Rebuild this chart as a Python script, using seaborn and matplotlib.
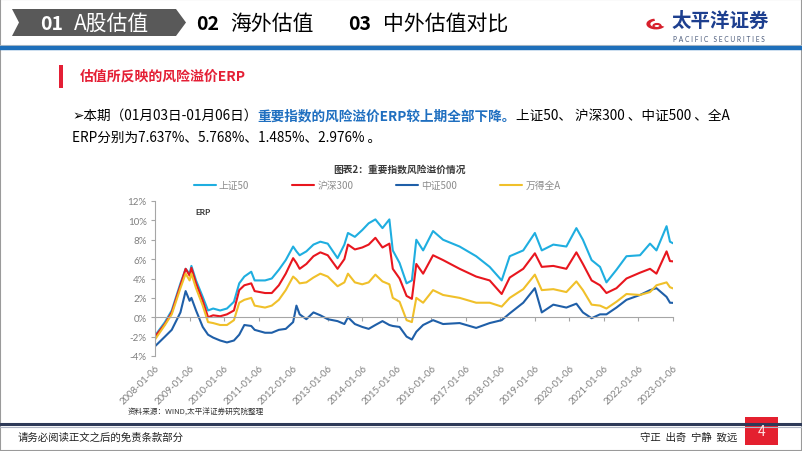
import matplotlib
matplotlib.use("Agg")
import matplotlib.pyplot as plt
import matplotlib.patches as mpatches
import matplotlib.ticker as mticker
import numpy as np
import pandas as pd
import seaborn as sns

# ---- data (ERP, %) ----
dates = [
    "2008-01-06", "2008-04-20", "2008-07-01", "2008-10-01", "2008-11-25",
    "2009-01-06", "2009-01-25", "2009-03-15", "2009-05-25", "2009-07-20", "2009-09-12", "2009-11-25",
    "2010-02-05", "2010-04-20", "2010-06-15", "2010-08-08", "2010-10-20", "2010-11-25",
    "2011-03-15", "2011-05-25", "2011-08-08", "2011-10-20",
    "2012-01-06", "2012-02-10", "2012-03-15", "2012-05-25", "2012-08-08", "2012-10-20",
    "2013-01-06", "2013-04-20", "2013-07-01", "2013-08-08", "2013-10-20",
    "2014-01-06", "2014-03-15", "2014-05-25", "2014-08-08", "2014-10-20", "2014-11-25",
    "2015-02-05", "2015-04-20", "2015-06-15", "2015-08-01", "2015-10-12",
    "2016-01-25", "2016-05-10", "2016-11-01",
    "2017-04-25", "2017-09-15",
    "2018-01-20", "2018-04-15", "2018-09-05",
    "2019-01-06", "2019-03-20", "2019-07-20", "2019-12-05",
    "2020-03-20", "2020-05-28", "2020-08-28", "2020-11-25",
    "2021-02-01", "2021-05-18", "2021-09-01",
    "2022-01-22", "2022-05-08", "2022-07-15", "2022-10-30", "2022-12-05",
    "2023-01-06",
]

sz50 = [
    -1.9, -0.5, 0.7, 3.5, 5.0,
    4.5, 5.3, 3.8, 2.1, 0.7, 0.9, 0.7,
    0.9, 1.6, 3.5, 4.2, 4.7, 3.8,
    3.8, 4.0, 4.9, 5.9,
    7.3, 6.8, 6.4, 6.8, 7.5, 7.8,
    7.6, 6.1, 7.5, 8.7, 8.3,
    9.0, 9.7, 10.1, 9.2, 10.1, 6.9,
    5.6, 3.5, 3.8, 8.0, 6.9,
    8.9, 8.0, 7.3,
    6.3, 5.2,
    3.8, 6.3, 6.9,
    8.7, 6.9, 7.5, 7.3,
    9.2, 8.0, 5.9, 5.2,
    3.6, 4.9, 6.3,
    6.4, 7.6, 6.9, 9.4, 7.8,
    7.637,
]

hs300 = [
    -2.0, -0.7, 0.5, 3.3, 5.0,
    4.3, 5.1, 3.5, 1.7, 0.0, 0.2, 0.1,
    0.3, 0.7, 2.8, 3.3, 3.5, 2.7,
    2.5, 2.5, 3.3, 4.5,
    6.1, 5.6, 5.0, 5.5, 6.3, 6.7,
    6.4, 5.0, 6.0, 7.5, 7.0,
    7.2, 7.5, 8.2, 7.2, 7.6, 5.0,
    4.0, 2.2, 1.9, 5.5, 4.5,
    6.4, 5.9, 5.0,
    4.2, 3.8,
    2.4, 4.1, 5.0,
    6.6, 5.2, 5.3, 5.0,
    6.7, 5.5, 3.8, 3.3,
    2.5, 3.0, 4.0,
    4.6, 5.0, 4.5, 6.8, 5.8,
    5.768,
]

zz500 = [
    -3.0, -2.0, -1.3, 0.5, 2.7,
    1.7, 2.0, 0.7, -1.0, -1.8, -2.1, -2.4,
    -2.6, -2.4, -1.8, -0.8, -0.9, -1.3,
    -1.6, -1.6, -1.3, -1.2,
    -0.5, 1.2, 0.3, -0.2, 0.5, 0.2,
    -0.2, -0.4, -0.7, 0.0, -0.7,
    -1.0, -1.2, -0.8, -0.4, -0.8, -0.9,
    -1.0, -2.0, -2.3, -1.5, -0.8,
    -0.3, -0.7, -0.6,
    -1.1, -0.6,
    -0.3, 0.4, 1.5,
    3.0, 0.5, 1.3, 1.0,
    1.4, 0.5, -0.1, 0.3,
    0.3, 1.0, 1.8,
    2.3, 2.8, 3.0, 2.1, 1.5,
    1.485,
]

wind_a = [
    -2.3, -0.8, 0.3, 3.0, 4.5,
    3.8, 4.5, 3.0, 1.2, -0.5, -0.6, -0.8,
    -0.8, -0.3, 1.5, 1.8, 2.0, 1.2,
    1.0, 1.2, 1.8, 2.8,
    4.2, 3.9, 3.5, 3.6, 4.1, 4.5,
    4.2, 3.2, 3.6, 4.5, 3.6,
    3.4, 3.6, 4.4, 3.7, 3.4, 2.0,
    1.6, -0.3, -0.5, 2.0, 1.5,
    2.8, 2.3, 2.0,
    1.5, 1.5,
    1.1, 2.0, 2.9,
    4.4, 2.8, 2.9, 2.6,
    3.7, 2.8, 1.3, 1.2,
    0.9, 1.6, 2.4,
    2.3, 2.6, 3.3, 3.6, 3.1,
    2.976,
]

series_names = ["上证50", "沪深300", "中证500", "万得全A"]
series_colors = ["#1faee0", "#e8161e", "#1f5fa8", "#f0c02a"]

x_ticks = [f"{y}-01-06" for y in range(2008, 2024)]
y_ticks = [-4, -2, 0, 2, 4, 6, 8, 10, 12]

df = pd.DataFrame({
    "date": pd.to_datetime(dates * 4),
    "erp": sz50 + hs300 + zz500 + wind_a,
    "index": sum([[n] * len(dates) for n in series_names], []),
})

# ---- figure ----
sns.set_theme(style="white")
plt.rcParams["font.family"] = ["Lato", "Noto Sans CJK SC", "DejaVu Sans"]

W, H = 802, 452
fig = plt.figure(figsize=(W / 100, H / 100), dpi=100)
fig.patch.set_facecolor("white")


def fx(x):
    return x / W


def fy(y):
    return 1 - y / H


CJK = ["Noto Sans CJK SC", "DejaVu Sans"]

# slide frame
fig.add_artist(mpatches.Rectangle((0, 0), 1, 1, transform=fig.transFigure,
                                  fill=False, edgecolor="#9a9a9a", lw=1.5))

# header tab
tab = [(12, 10), (176, 10), (186, 23.5), (176, 37), (12, 37), (19, 23.5)]
fig.add_artist(mpatches.Polygon([(fx(a), fy(b)) for a, b in tab], closed=True,
                                transform=fig.transFigure, facecolor="#595959",
                                edgecolor="none"))
fig.text(fx(40), fy(24), "01", color="white", fontsize=14, fontweight="bold",
         family=CJK, va="center")
fig.text(fx(74), fy(24), "A股估值", color="white", fontsize=15,
         family=CJK, va="center")
fig.text(fx(196), fy(24), "02", color="black", fontsize=14, fontweight="bold",
         family=CJK, va="center")
fig.text(fx(230), fy(24), "海外估值", color="black", fontsize=15,
         family=CJK, va="center")
fig.text(fx(348), fy(24), "03", color="black", fontsize=14, fontweight="bold",
         family=CJK, va="center")
fig.text(fx(383), fy(24), "中外估值对比", color="black", fontsize=15,
         family=CJK, va="center")

# logo
fig.add_artist(mpatches.Wedge((fx(656), fy(25)), 0.012, 100, 330, width=0.005,
                              transform=fig.transFigure, facecolor="#d7202c",
                              edgecolor="none"))
fig.add_artist(mpatches.Circle((fx(657), fy(27)), 0.0045, transform=fig.transFigure,
                               facecolor="none", edgecolor="#d7202c", lw=1.5))
fig.text(fx(672), fy(21), "太平洋证券", color="#1d3f8f", fontsize=14,
         fontweight="bold", family=CJK, va="center")
fig.text(fx(673), fy(39), "P A C I F I C   S E C U R I T I E S", color="#4a5a7a",
         fontsize=4.8, va="center")

# header rules
fig.add_artist(plt.Line2D([0, 1], [fy(45.5), fy(45.5)], transform=fig.transFigure,
                          color="#c8c8c8", lw=0.8))
fig.add_artist(plt.Line2D([0, 1], [fy(49), fy(49)], transform=fig.transFigure,
                          color="#1e6fba", lw=3.2))

# section title
fig.add_artist(mpatches.Rectangle((fx(59), fy(89)), fx(4), 23 / H,
                                  transform=fig.transFigure, facecolor="#e41f35",
                                  edgecolor="none"))
fig.text(fx(80), fy(77), "估值所反映的风险溢价ERP", color="#e41f35", fontsize=10,
         fontweight="bold", family=CJK, va="center")

# body text with mixed colours
renderer = fig.canvas.get_renderer()
segments = [
    ("➢本期（01月03日-01月06日）", "black", "normal"),
    ("重要指数的风险溢价ERP较上期全部下降。", "#1f6fc0", "bold"),
    ("上证50、 沪深300 、中证500 、全A", "black", "normal"),
]
xpos = fx(72)
for txt, col, wt in segments:
    t = fig.text(xpos, fy(116), txt, color=col, fontsize=9.8, fontweight=wt,
                 family=CJK, va="center")
    bb = t.get_window_extent(renderer=renderer)
    xpos = bb.x1 / fig.bbox.width
fig.text(fx(72), fy(138), "ERP分别为7.637%、5.768%、1.485%、2.976% 。", color="black",
         fontsize=9.8, family=CJK, va="center")

# chart title
fig.text(fx(400), fy(170), "图表2：重要指数风险溢价情况", color="#3a3a3a", fontsize=7,
         fontweight="bold", family=CJK, ha="center", va="center")

# ---- chart ----
ax = fig.add_axes([fx(155), fy(357), (673 - 155) / W, (357 - 202) / H])
sns.lineplot(data=df, x="date", y="erp", hue="index", hue_order=series_names,
             palette=series_colors, linewidth=1.5, ax=ax)

ax.set_xlim(pd.Timestamp(x_ticks[0]), pd.Timestamp(x_ticks[-1]))
ax.set_ylim(-4, 12)
ax.set_yticks(y_ticks)
ax.yaxis.set_major_formatter(mticker.FuncFormatter(lambda v, p: f"{v:.0f}%"))
ax.set_xlabel("")
ax.set_ylabel("")
ax.set_facecolor("none")

for s in ["top", "right"]:
    ax.spines[s].set_visible(False)
ax.spines["left"].set_color("#a6a6a6")
ax.spines["left"].set_linewidth(0.8)
ax.spines["bottom"].set_position(("data", 0))
ax.spines["bottom"].set_color("#a6a6a6")
ax.spines["bottom"].set_linewidth(0.8)
ax.tick_params(axis="y", left=True, length=3, width=0.8, color="#a6a6a6",
               labelsize=7, labelcolor="#7f7f7f", pad=3)
ax.tick_params(axis="x", bottom=True, length=3, width=0.8, color="#a6a6a6",
               labelsize=6.8, labelcolor="#7f7f7f", pad=30)

ax.set_xticks(pd.to_datetime(x_ticks))
ax.set_xticklabels(x_ticks)
for lab in ax.get_xticklabels():
    lab.set_rotation(45)
    lab.set_ha("right")
    lab.set_rotation_mode("anchor")

ax.text(0.077, 0.93, "ERP", transform=ax.transAxes, fontsize=6, fontweight="bold",
        color="#333333", va="center")

sns.move_legend(ax, "center", bbox_to_anchor=(fx(377), fy(186)),
                bbox_transform=fig.transFigure, ncol=4, title=None, frameon=False,
                handlelength=2.3, columnspacing=4.4, handletextpad=0.3,
                fontsize=7)
for t in ax.get_legend().get_texts():
    t.set_color("#8c8c8c")
    t.set_family(CJK)

# source
fig.text(fx(128), fy(413), "资料来源：WIND,太平洋证券研究院整理", color="#333333",
         fontsize=5.5, family=CJK, va="center")

# footer
fig.add_artist(plt.Line2D([0, 1], [fy(425), fy(425)], transform=fig.transFigure,
                          color="#2e3a58", lw=2.2))
fig.add_artist(plt.Line2D([0, 1], [fy(427.5), fy(427.5)], transform=fig.transFigure,
                          color="#b0b6c4", lw=0.8))
fig.text(fx(18), fy(438), "请务必阅读正文之后的免责条款部分", color="#222222",
         fontsize=7.5, family=CJK, va="center")
fig.text(fx(640), fy(438), "守正  出奇  宁静  致远", color="#222222",
         fontsize=7.5, family=CJK, va="center")
fig.add_artist(mpatches.Rectangle((fx(745), fy(446)), 33 / W, 28 / H,
                                  transform=fig.transFigure, facecolor="#e4202f",
                                  edgecolor="none"))
fig.text(fx(761.5), fy(432), "4", color="#ffe6e6", fontsize=10, ha="center",
         va="center", family=CJK)

fig.savefig("out.png", dpi=100, facecolor="white")
